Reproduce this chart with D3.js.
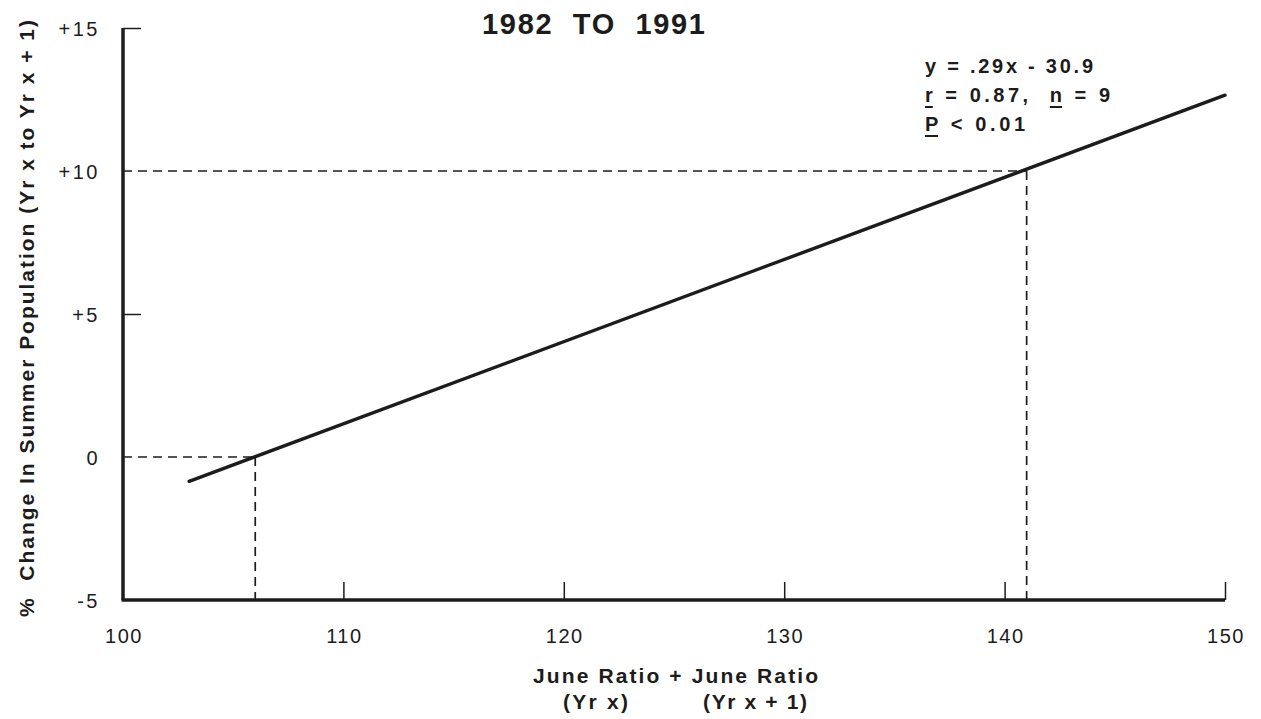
<!DOCTYPE html>
<html>
<head>
<meta charset="utf-8">
<script src="https://cdn.jsdelivr.net/npm/d3@7"></script>
<style>
  body { margin: 0; background: #fff; }
  svg { display: block; font-family: "Liberation Sans", Arial, sans-serif; }
</style>
</head>
<body>
<svg class="chart"></svg>
<script>
// fitted regression line, end points
const lineX = [103, 150];
const lineY = [-0.85, 12.65];
// dashed guide points (x where the line crosses 0 and +10)
const guideX = [106, 141];
const guideY = [0, 10];
const xTicks = [100, 110, 120, 130, 140, 150];
const yTicks = [-5, 0, 5, 10, 15];
const yTickLabels = ['-5', '0', '+5', '+10', '+15'];
const statLines = ['y = .29x - 30.9', 'r = 0.87,  n = 9', 'P < 0.01'];
const statWidths = [168, 185, 100];
// characters that are underlined in the stats: [line, char index]
const underlined = [[1, 0], [1, 11], [2, 0]];

const width = 1261;
const height = 719;
const ink = '#1c1c1c';

const svg = d3.select('.chart')
  .attr('width', width)
  .attr('height', height);

const x = d3.scaleLinear().domain([100, 150]).range([123, 1225]);
const y = d3.scaleLinear().domain([-5, 15]).range([600, 28]);

// guides
guideX.forEach((gx, i) => {
  const gy = guideY[i];
  svg.append('path')
    .attr('d', `M${x(100)},${y(gy)}H${x(gx)}`)
    .attr('stroke', ink)
    .attr('stroke-width', 1.7)
    .attr('stroke-dasharray', '9,6')
    .attr('fill', 'none');
  svg.append('path')
    .attr('d', `M${x(gx)},${y(gy)}V${y(-5)}`)
    .attr('stroke', ink)
    .attr('stroke-width', 1.7)
    .attr('stroke-dasharray', '9,6')
    .attr('fill', 'none');
});

// axes, ticks pointing inward
const xAxis = d3.axisTop(x).tickValues(xTicks).tickSize(18).tickFormat('');
const yAxis = d3.axisRight(y).tickValues(yTicks).tickSize(18).tickFormat('');

const gx = svg.append('g').attr('transform', `translate(0,${y(-5)})`).call(xAxis);
const gy = svg.append('g').attr('transform', `translate(${x(100)},0)`).call(yAxis);
[gx, gy].forEach(g => {
  g.select('.domain').attr('stroke', ink).attr('stroke-width', 3.5);
  g.selectAll('.tick line').attr('stroke', ink).attr('stroke-width', 1.5);
});
gx.select('.domain').attr('d', `M${x(100) - 1.5},0H${x(150)}`);
gy.select('.domain').attr('d', `M0,${y(-5)}V${y(15)}`);
gy.selectAll('.tick').filter(d => d === -5 || d === 0 || d === 10).select('line').remove();
gx.selectAll('.tick').filter(d => d === 100).select('line').remove();

// tick labels
svg.append('g').selectAll('text')
  .data(xTicks)
  .join('text')
  .attr('x', d => x(d) + 1)
  .attr('y', 643)
  .attr('text-anchor', 'middle')
  .attr('font-size', 20)
  .attr('letter-spacing', 1.5)
  .attr('fill', ink)
  .text(d => d);

svg.append('g').selectAll('text')
  .data(yTicks)
  .join('text')
  .attr('x', 100)
  .attr('y', d => y(d) + 8)
  .attr('text-anchor', 'end')
  .attr('font-size', 20)
  .attr('letter-spacing', 2.5)
  .attr('fill', ink)
  .text((d, i) => yTickLabels[i]);

// regression line
svg.append('path')
  .datum(lineX.map((d, i) => [d, lineY[i]]))
  .attr('d', d3.line().x(d => x(d[0])).y(d => y(d[1])))
  .attr('stroke', ink)
  .attr('stroke-width', 3.4)
  .attr('stroke-linecap', 'round')
  .attr('fill', 'none');

// title
svg.append('text')
  .attr('x', 482)
  .attr('y', 34)
  .attr('font-size', 29)
  .attr('font-weight', 'bold')
  .attr('fill', ink)
  .attr('xml:space', 'preserve')
  .attr('textLength', 223)
  .attr('lengthAdjust', 'spacing')
  .text('1982  TO  1991');

// y axis title
svg.append('text')
  .attr('transform', 'translate(34,617) rotate(-90)')
  .attr('font-size', 21)
  .attr('font-weight', 'bold')
  .attr('fill', ink)
  .attr('xml:space', 'preserve')
  .attr('textLength', 597)
  .attr('lengthAdjust', 'spacing')
  .text('%  Change In Summer Population (Yr x to Yr x + 1)');

// x axis title
const xTitle = [
  ['June Ratio + June Ratio', 533, 683, 285],
  ['(Yr x)', 563, 709, 65],
  ['(Yr x + 1)', 703, 709, 104]
];
xTitle.forEach(t => {
  svg.append('text')
    .attr('x', t[1]).attr('y', t[2])
    .attr('font-size', 21).attr('font-weight', 'bold').attr('fill', ink)
    .attr('xml:space', 'preserve')
    .attr('textLength', t[3])
    .attr('lengthAdjust', 'spacing')
    .text(t[0]);
});

// stats annotation
const stats = svg.append('g').attr('font-size', 20).attr('font-weight', 'bold').attr('fill', ink);
const statText = stats.selectAll('text')
  .data(statLines)
  .join('text')
  .attr('x', 925)
  .attr('y', (d, i) => 73 + i * 29)
  .attr('xml:space', 'preserve')
  .attr('textLength', (d, i) => statWidths[i])
  .attr('lengthAdjust', 'spacing')
  .text(d => d);

// underline r, n and P
underlined.forEach(u => {
  const node = statText.nodes()[u[0]];
  const p0 = node.getStartPositionOfChar(u[1]);
  const p1 = node.getEndPositionOfChar(u[1]);
  svg.append('line')
    .attr('x1', p0.x).attr('x2', p1.x)
    .attr('y1', p0.y + 5).attr('y2', p0.y + 5)
    .attr('stroke', ink).attr('stroke-width', 2);
});
</script>
</body>
</html>
